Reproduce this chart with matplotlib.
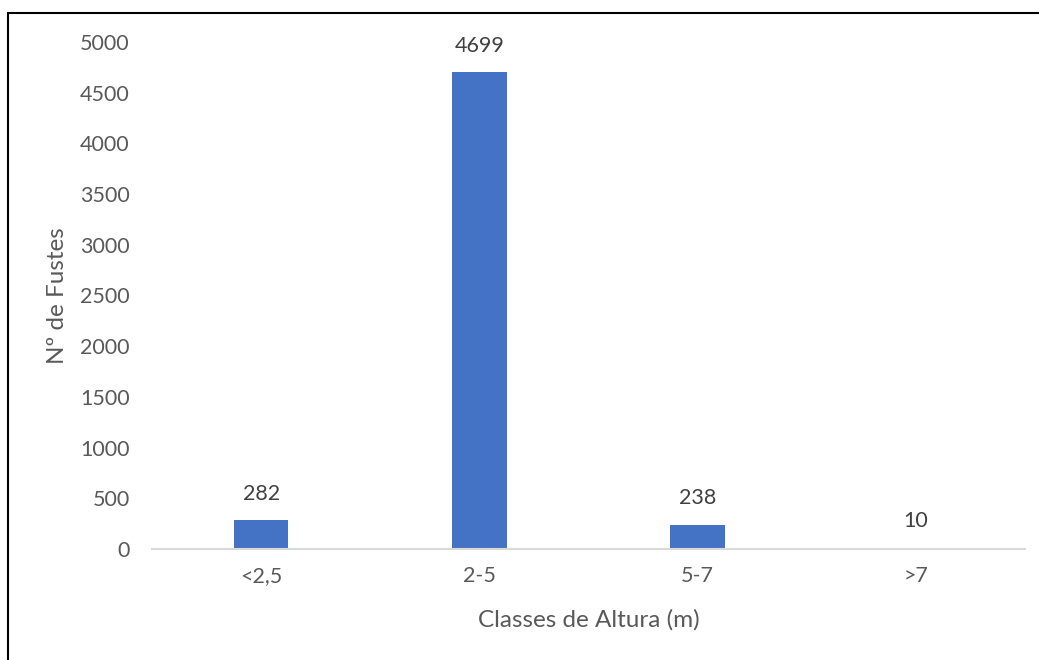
import matplotlib.pyplot as plt
from matplotlib.patches import Rectangle

# Dados
classes = ['<2,5', '2-5', '5-7', '>7']
fustes = [282, 4699, 238, 10]

plt.rcParams['font.family'] = ['Lato', 'DejaVu Sans']

fig = plt.figure(figsize=(10.39, 6.6), dpi=100)
ax = fig.add_axes([0.1463, 0.1682, 0.8402, 0.7682])

barras = ax.bar(classes, fustes, width=0.25, color='#4472C4')
ax.bar_label(barras, labels=[str(v) for v in fustes], padding=12,
             fontsize=15.5, color='#404040')

ax.set_ylim(0, 5000)
ax.set_xlim(-0.5, 3.5)
ax.set_yticks(range(0, 5001, 500))
ax.tick_params(axis='both', length=0, labelsize=15.5, colors='#595959')
ax.tick_params(axis='x', pad=12)
ax.tick_params(axis='y', pad=16)

for lado in ['top', 'right', 'left']:
    ax.spines[lado].set_visible(False)
ax.spines['bottom'].set_color('#D9D9D9')
ax.spines['bottom'].set_linewidth(1.5)

ax.set_ylabel('Nº de Fustes', fontsize=17.5, color='#595959', labelpad=9)
ax.set_xlabel('Classes de Altura (m)', fontsize=17.5, color='#595959', labelpad=17)

# Moldura
fig.patches.append(Rectangle((0.0077, -0.1), 1.2, 1.08, transform=fig.transFigure,
                             fill=False, edgecolor='black', linewidth=1.5))

fig.savefig('out.png', dpi=100)
